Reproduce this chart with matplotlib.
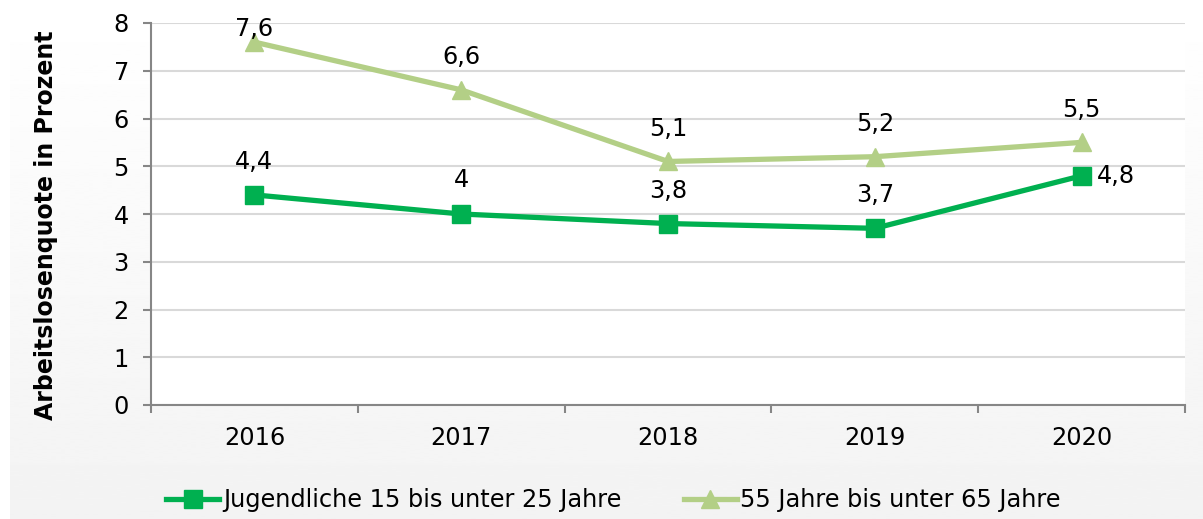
import numpy as np
import matplotlib
matplotlib.use("Agg")
from matplotlib import pyplot as plt

years = ["2016", "2017", "2018", "2019", "2020"]
jugend = [4.4, 4.0, 3.8, 3.7, 4.8]
aeltere = [7.6, 6.6, 5.1, 5.2, 5.5]
jugend_labels = ["4,4", "4", "3,8", "3,7", "4,8"]
aeltere_labels = ["7,6", "6,6", "5,1", "5,2", "5,5"]
name_jugend = "Jugendliche 15 bis unter 25 Jahre"
name_aeltere = "55 Jahre bis unter 65 Jahre"

dark = "#00b050"
light = "#b3cf86"

plt.rcParams["font.family"] = ["DejaVu Sans"]
plt.rcParams["font.size"] = 17.3

fig = plt.figure(figsize=(12.03, 5.19), dpi=100)

# background gradient (white top -> light gray bottom)
bg = fig.add_axes([10 / 1203, 0, 1 - 10 / 1203, 1], zorder=-5)
grad = np.linspace(1.0, 0.952, 256).reshape(-1, 1)
bg.imshow(grad, aspect="auto", cmap="gray", vmin=0, vmax=1, extent=[0, 1, 0, 1])
bg.axis("off")

ax = fig.add_axes([151 / 1203, 1 - 405 / 519, (1185 - 151) / 1203, (405 - 23) / 519])
ax.set_facecolor("white")

x = np.arange(len(years))
ax.plot(x, jugend, color=dark, lw=3.8, marker="s", ms=12.5, label=name_jugend, zorder=3)
ax.plot(x, aeltere, color=light, lw=3.8, marker="^", ms=13, label=name_aeltere, zorder=3)

j_off = [(0, 15), (0, 16), (0, 15), (0, 15), (11, 0)]
a_off = [(0, 1), (0, 15), (0, 15), (0, 15), (0, 15)]
for i in range(len(years)):
    dx, dy = j_off[i]
    ha = "left" if dx > 0 else "center"
    va = "center" if dx > 0 else "bottom"
    ax.annotate(jugend_labels[i], (x[i], jugend[i]), xytext=(dx, dy),
                textcoords="offset points", ha=ha, va=va, zorder=4)
    dx, dy = a_off[i]
    ax.annotate(aeltere_labels[i], (x[i], aeltere[i]), xytext=(dx, dy),
                textcoords="offset points", ha="center", va="bottom", zorder=4)

ax.set_xlim(-0.5, len(years) - 0.5)
ax.set_ylim(0, 8)
ax.set_yticks(range(0, 9))
ax.set_xticks(x)
ax.set_xticklabels(years)
ax.set_xticks(np.arange(-0.5, len(years)), minor=True)
ax.tick_params(axis="x", which="major", length=0, pad=15)
ax.tick_params(axis="x", which="minor", length=6, color="#868686", width=1.5)
ax.tick_params(axis="y", length=6, color="#868686", width=1.5, pad=10)
ax.grid(axis="y", color="#d9d9d9", lw=1.5)
ax.set_axisbelow(True)
for s in ["top", "right"]:
    ax.spines[s].set_visible(False)
for s in ["left", "bottom"]:
    ax.spines[s].set_color("#868686")
    ax.spines[s].set_linewidth(1.5)
ax.spines["bottom"].set_zorder(2.5)

ax.set_ylabel("Arbeitslosenquote in Prozent", fontweight="bold", fontsize=17)
ax.yaxis.set_label_coords(-0.09, 0.47)

fig.legend(loc="center", bbox_to_anchor=(0.51, 1 - 500 / 519), ncol=2, frameon=False,
           handlelength=2.2, columnspacing=2.6, handletextpad=0.15)

fig.savefig("out.png", dpi=100)
